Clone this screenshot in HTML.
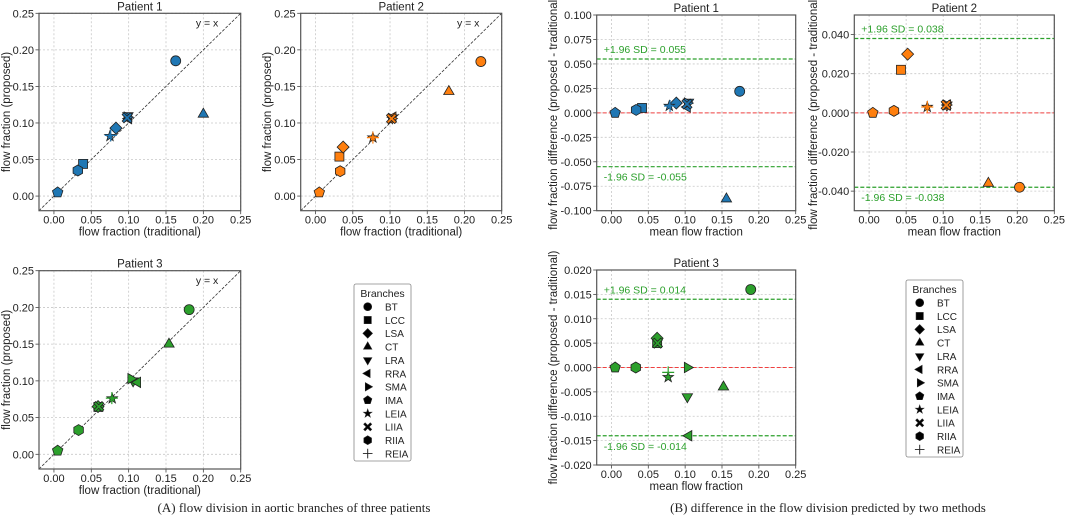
<!DOCTYPE html>
<html><head><meta charset="utf-8">
<style>
html,body{margin:0;padding:0;background:#fff;}
svg{display:block;font-family:"Liberation Sans",sans-serif;}
</style></head>
<body>
<svg id="fig" width="1065" height="532" viewBox="0 0 1065 532" xmlns="http://www.w3.org/2000/svg">
<text x="294" y="512" font-family="Liberation Serif,serif" font-size="13" text-anchor="middle" fill="#222">(A) flow division in aortic branches of three patients</text>
<text x="828" y="512" font-family="Liberation Serif,serif" font-size="13" text-anchor="middle" fill="#222">(B) difference in the flow division predicted by two methods</text>
</svg>
<script>
// ---- data ----
const branches = ["BT","LCC","LSA","CT","LRA","RRA","SMA","IMA","LEIA","LIIA","RIIA","REIA"];
const markers  = ["o","s","D","^","v","<",">","p","*","X","h","+"];
const p1Traditional = [0.163,0.039,0.083,0.200,0.099,0.100,0.098,0.005,0.075,0.098,0.032,0.076];
const p1Proposed    = [0.185,0.044,0.093,0.112,0.110,0.106,0.108,0.005,0.082,0.107,0.035,0.083];
const p2Traditional = [0.222,0.032,0.037,0.179,0.103,0.104,0.102,0.005,0.077,0.102,0.033,0.077];
const p2Proposed    = [0.184,0.054,0.067,0.143,0.107,0.108,0.106,0.005,0.080,0.106,0.034,0.080];
const p3Traditional = [0.181,0.0595,0.059,0.154,0.106,0.112,0.103,0.005,0.078,0.0600,0.033,0.0775];
const p3Proposed    = [0.197,0.0645,0.065,0.150,0.100,0.098,0.103,0.005,0.076,0.0650,0.033,0.0765];
const sdLimits = [0.055,0.038,0.014];
const xTicks = [0.00,0.05,0.10,0.15,0.20,0.25];
const yTicksA = [0.00,0.05,0.10,0.15,0.20,0.25];
const yTicksB1 = [-0.100,-0.075,-0.050,-0.025,0.000,0.025,0.050,0.075,0.100];
const yTicksB2 = [-0.040,-0.020,0.000,0.020,0.040];
const yTicksB3 = [-0.020,-0.015,-0.010,-0.005,0.000,0.005,0.010,0.015,0.020];
const colors = ["#1f77b4","#ff7f0e","#2ca02c"];

const NS="http://www.w3.org/2000/svg";
const svg=document.getElementById('fig');
function mk(tag,attrs,parent){const e=document.createElementNS(NS,tag);for(const k in attrs)e.setAttribute(k,attrs[k]);(parent||svg).appendChild(e);return e;}

function markerShape(g,m,cx,cy,fill){
  let e;const st={fill:fill,stroke:"#222","stroke-width":0.8};
  const poly=(pts)=>mk('polygon',Object.assign({points:pts.map(p=>(cx+p[0]).toFixed(2)+","+(cy+p[1]).toFixed(2)).join(" ")},st),g);
  const reg=(n,r,rot)=>{const a=[];for(let i=0;i<n;i++){const t=rot+i*2*Math.PI/n;a.push([r*Math.cos(t),r*Math.sin(t)]);}return a;};
  switch(m){
    case "o": e=mk('circle',Object.assign({cx:cx,cy:cy,r:5},st),g);break;
    case "s": e=mk('rect',Object.assign({x:cx-4.5,y:cy-4.5,width:9,height:9},st),g);break;
    case "D": e=poly([[0,-6],[6,0],[0,6],[-6,0]]);break;
    case "^": e=poly(reg(3,6,-Math.PI/2));break;
    case "v": e=poly(reg(3,6,Math.PI/2));break;
    case "<": e=poly(reg(3,6,Math.PI));break;
    case ">": e=poly(reg(3,6,0));break;
    case "p": e=poly(reg(5,5.5,-Math.PI/2));break;
    case "h": e=poly(reg(6,5.5,-Math.PI/2));break;
    case "*": {const a=[];for(let i=0;i<10;i++){const r=i%2?2.2:5.5;const t=-Math.PI/2+i*Math.PI/5;a.push([r*Math.cos(t),r*Math.sin(t)]);}e=poly(a);break;}
    case "X": {const w=1.8,L=5;e=poly([[-L+w,-L],[0,-w],[L-w,-L],[L,-L+w],[w,0],[L,L-w],[L-w,L],[0,w],[-L+w,L],[-L,L-w],[-w,0],[-L,-L+w]]);break;}
    case "+": e=mk('path',{d:`M${cx-6},${cy}H${cx+6}M${cx},${cy-6}V${cy+6}`,stroke:fill==="#000"?"#222":fill,"stroke-width":1.2,fill:"none"},g);break;
  }
  return e;
}

function fmt(v,d){const s=Math.abs(v).toFixed(d);return (v<-1e-9?"-":"")+s;}

function panel(cfg){
  const g=mk('g',{});
  
  
  const X=v=>cfg.l+(v-cfg.xmin)/(cfg.xmax-cfg.xmin)*(cfg.r-cfg.l);
  const Y=v=>cfg.b-(v-cfg.ymin)/(cfg.ymax-cfg.ymin)*(cfg.b-cfg.t);
  xTicks.forEach(v=>{
    const l=mk('line',{x1:X(v),x2:X(v),y1:cfg.t,y2:cfg.b,stroke:"#c8c8c8","stroke-width":0.8,"stroke-dasharray":"2,2"},g);
    
    mk('line',{x1:X(v),x2:X(v),y1:cfg.b,y2:cfg.b+3.5,stroke:"#444","stroke-width":0.8},g);
    const t=mk('text',{x:X(v),y:cfg.b+13,"font-size":11,"text-anchor":"middle",fill:"#222"},g);t.textContent=v.toFixed(2);
    
  });
  cfg.yt.forEach(v=>{
    const l=mk('line',{x1:cfg.l,x2:cfg.r,y1:Y(v),y2:Y(v),stroke:"#c8c8c8","stroke-width":0.8,"stroke-dasharray":"2,2"},g);
    
    mk('line',{x1:cfg.l-3.5,x2:cfg.l,y1:Y(v),y2:Y(v),stroke:"#444","stroke-width":0.8},g);
    const t=mk('text',{x:cfg.l-5,y:Y(v)+4,"font-size":11,"text-anchor":"end",fill:"#222"},g);t.textContent=fmt(v,cfg.yd);
    
  });
  const clipId='c'+cfg.name;
  const cp=mk('clipPath',{id:clipId},g);mk('rect',{x:cfg.l,y:cfg.t,width:cfg.r-cfg.l,height:cfg.b-cfg.t},cp);
  const inner=mk('g',{"clip-path":`url(#${clipId})`},g);
  if(cfg.type==="A"){
    const d=mk('line',{x1:X(cfg.xmin),y1:Y(cfg.xmin),x2:X(cfg.xmax),y2:Y(cfg.xmax),stroke:"#333","stroke-width":0.8,"stroke-dasharray":"3,1.5"},inner);
    
    const t=mk('text',{x:X(0.205),y:Y(0.232),"font-size":10.5,"text-anchor":"middle",fill:"#222"},g);t.textContent="y = x";
    
  } else {
    const z=mk('line',{x1:cfg.l,x2:cfg.r,y1:Y(0),y2:Y(0),stroke:"#f04040","stroke-width":1,"stroke-dasharray":"4,2"},inner);
    
    [1,-1].forEach(s=>{
      const v=s*cfg.sd;
      const l=mk('line',{x1:cfg.l,x2:cfg.r,y1:Y(v),y2:Y(v),stroke:"#2ca02c","stroke-width":1.2,"stroke-dasharray":"4,2"},inner);
      
      const t=mk('text',{x:cfg.l+7,y:s>0?Y(v)-6:Y(v)+14,"font-size":10.5,fill:"#2ca02c"},g);
      t.textContent=(s>0?"+1.96 SD = ":"-1.96 SD = ")+fmt(v,3);
      
    });
  }
  branches.forEach((b,i)=>{
    const tr=cfg.tr[i],pr=cfg.pr[i];
    let px,py;
    if(cfg.type==="A"){px=tr;py=pr;}else{px=(tr+pr)/2;py=pr-tr;}
    const e=markerShape(inner,markers[i],X(px),Y(py),cfg.color);
    
    
  });
  const f=mk('rect',{x:cfg.l,y:cfg.t,width:cfg.r-cfg.l,height:cfg.b-cfg.t,fill:"none",stroke:"#555","stroke-width":1.2},g);
  
  const tt=mk('text',{x:(cfg.l+cfg.r)/2,y:cfg.t-3,"font-size":11.5,"text-anchor":"middle",fill:"#222"},g);tt.textContent=cfg.title;
  
  const xl=mk('text',{x:(cfg.l+cfg.r)/2,y:cfg.b+25,"font-size":11.5,"text-anchor":"middle",fill:"#222"},g);xl.textContent=cfg.xl;
  
  const yc=(cfg.t+cfg.b)/2;
  const yl=mk('text',{x:cfg.ylx,y:yc,"font-size":11.5,"text-anchor":"middle",fill:"#222",transform:`rotate(-90 ${cfg.ylx} ${yc})`},g);yl.textContent=cfg.yl;
  
}

const XA="flow fraction (traditional)",YA="flow fraction (proposed)",XB="mean flow fraction",YB="flow fraction difference (proposed - traditional)";
panel({name:"panel-a-patient-1",type:"A",l:39,r:240.7,t:13.3,b:210.7,xmin:-0.02,xmax:0.25,ymin:-0.02,ymax:0.25,yt:yTicksA,yd:2,tr:p1Traditional,pr:p1Proposed,color:colors[0],title:"Patient 1",xl:XA,yl:YA,ylx:10});
panel({name:"panel-a-patient-2",type:"A",l:300.7,r:501.7,t:13.3,b:210.7,xmin:-0.02,xmax:0.25,ymin:-0.02,ymax:0.25,yt:yTicksA,yd:2,tr:p2Traditional,pr:p2Proposed,color:colors[1],title:"Patient 2",xl:XA,yl:YA,ylx:271});
panel({name:"panel-a-patient-3",type:"A",l:39,r:240.7,t:270.7,b:469,xmin:-0.02,xmax:0.25,ymin:-0.02,ymax:0.25,yt:yTicksA,yd:2,tr:p3Traditional,pr:p3Proposed,color:colors[2],title:"Patient 3",xl:XA,yl:YA,ylx:10});
panel({name:"panel-b-patient-1",type:"B",l:596.7,r:795.7,t:15,b:210.7,xmin:-0.02,xmax:0.25,ymin:-0.1,ymax:0.1,yt:yTicksB1,yd:3,tr:p1Traditional,pr:p1Proposed,color:colors[0],sd:sdLimits[0],title:"Patient 1",xl:XB,yl:YB,ylx:557});
panel({name:"panel-b-patient-2",type:"B",l:854.3,r:1054.3,t:15,b:210.7,xmin:-0.02,xmax:0.25,ymin:-0.05,ymax:0.05,yt:yTicksB2,yd:3,tr:p2Traditional,pr:p2Proposed,color:colors[1],sd:sdLimits[1],title:"Patient 2",xl:XB,yl:YB,ylx:817});
panel({name:"panel-b-patient-3",type:"B",l:596.7,r:795.7,t:270,b:465,xmin:-0.02,xmax:0.25,ymin:-0.02,ymax:0.02,yt:yTicksB3,yd:3,tr:p3Traditional,pr:p3Proposed,color:colors[2],sd:sdLimits[2],title:"Patient 3",xl:XB,yl:YB,ylx:557});

function legend(name,x,y){
  const g=mk('g',{});
  
  
  mk('rect',{x:x,y:y,width:57,height:177,rx:2,fill:"#fff",stroke:"#888","stroke-width":0.8},g);
  const t=mk('text',{x:x+28.5,y:y+13,"font-size":10.5,"text-anchor":"middle",fill:"#222"},g);t.textContent="Branches";
  
  branches.forEach((b,i)=>{
    const cy=y+22.7+i*13.35;
    const m=markerShape(g,markers[i],x+13.7,cy,"#000");
    
    m.setAttribute('transform',`translate(${x+13.7} ${cy}) scale(0.8) translate(${-(x+13.7)} ${-cy})`);
    const l=mk('text',{x:x+31,y:cy+3.8,"font-size":10,fill:"#222"},g);l.textContent=b;
    
  });
}
legend("legend-a",354,284);
legend("legend-b",906,280);
</script>
</body></html>
